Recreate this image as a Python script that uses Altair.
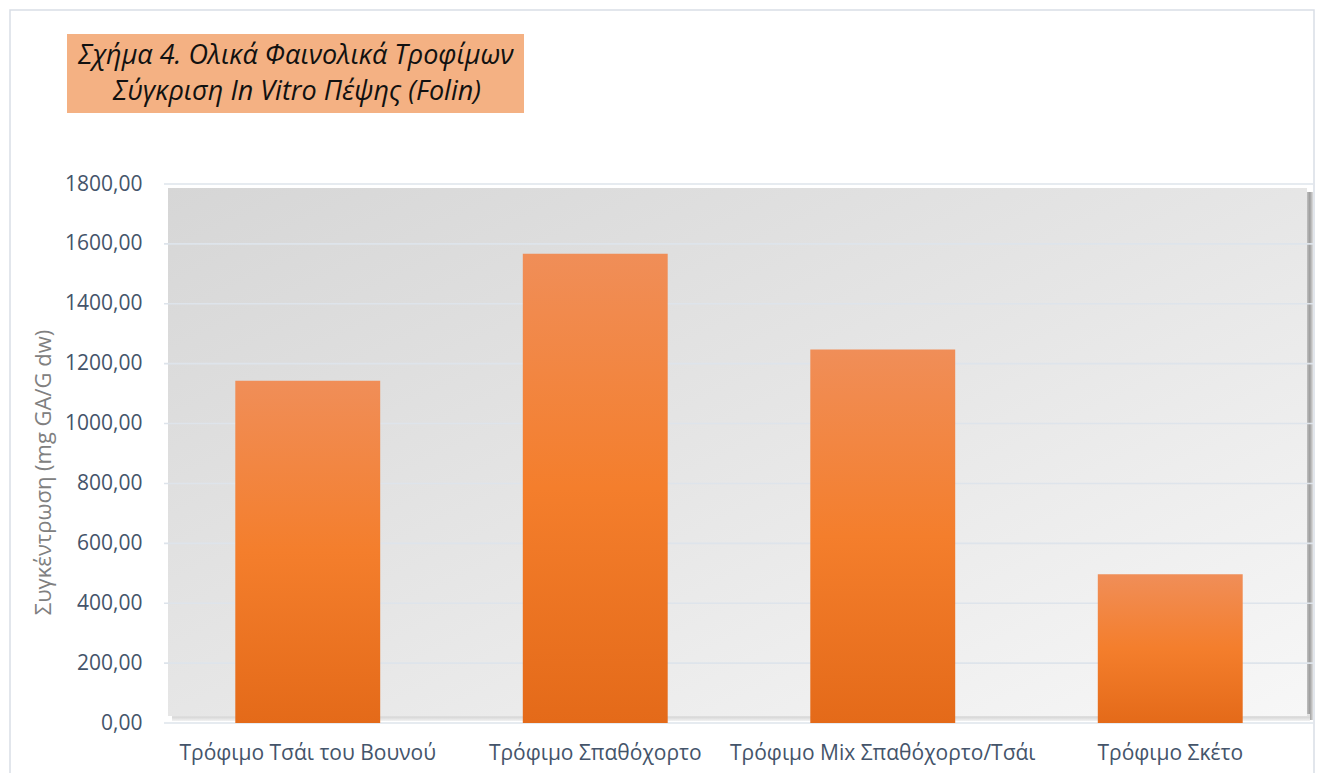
import altair as alt
import pandas as pd

# ---- data ----
categories = ["Τρόφιμο Τσάι του Βουνού", "Τρόφιμο Σπαθόχορτο",
              "Τρόφιμο Mix Σπαθόχορτο/Τσάι", "Τρόφιμο Σκέτο"]
values = [1143, 1567, 1247, 497]
y_ticks = [0, 200, 400, 600, 800, 1000, 1200, 1400, 1600, 1800]
title_lines = ["Σχήμα 4. Ολικά Φαινολικά Τροφίμων", "Σύγκριση In Vitro Πέψης (Folin)"]
y_title = "Συγκέντρωση (mg GA/G dw)"

W, H = 1150, 539
PAD_L, PAD_T = 164, 184

df = pd.DataFrame({"cat": categories, "val": values})
grid_df = pd.DataFrame({"val": y_ticks})
one = pd.DataFrame({"k": [0]})

FONT = "Open Sans"
yscale = alt.Scale(domain=[0, 1800], nice=False)

yaxis = alt.Axis(values=y_ticks, grid=False, domain=False, ticks=False,
                 labelExpr="replace(format(datum.value, '.2f'), '.', ',')",
                 labelFont=FONT, labelFontSize=21, labelColor="#44546A",
                 labelPadding=22, title=y_title, titleFont=FONT,
                 titleFontSize=22, titleFontWeight="normal", titleColor="#808080",
                 titleX=-121, titleY=288, titleAngle=270,
                 titleAlign="center", titleBaseline="middle")

# outer border of chart
border = alt.Chart(one).mark_rect(fill=None, stroke="#D9DEE6", strokeWidth=1.5).encode(
    x=alt.value(10 - PAD_L), x2=alt.value(1314 - PAD_L),
    y=alt.value(10 - PAD_T), y2=alt.value(800 - PAD_T))

# plot-area background with shadow
shadow_r = alt.Chart(one).mark_rect(
    fill=alt.Gradient(gradient="linear", x1=0, y1=0, x2=1, y2=0,
                      stops=[alt.GradientStop(color="#D8D8D8", offset=0),
                             alt.GradientStop(color="#9C9C9C", offset=0.6),
                             alt.GradientStop(color="#DCDCDC", offset=1)])).encode(
    x=alt.value(1141), x2=alt.value(1149), y=alt.value(8), y2=alt.value(536))
shadow_b = alt.Chart(one).mark_rect(
    fill=alt.Gradient(gradient="linear", x1=0, y1=0, x2=0, y2=1,
                      stops=[alt.GradientStop(color="#E6E6E6", offset=0),
                             alt.GradientStop(color="#DADADA", offset=0.5),
                             alt.GradientStop(color="#F2F2F2", offset=1)])).encode(
    x=alt.value(8), x2=alt.value(1146), y=alt.value(530), y2=alt.value(537))
bg = alt.Chart(one).mark_rect(
    fill=alt.Gradient(gradient="linear", x1=0, y1=0, x2=1, y2=1,
                      stops=[alt.GradientStop(color="#D6D6D6", offset=0),
                             alt.GradientStop(color="#E6E6E6", offset=0.5),
                             alt.GradientStop(color="#F7F7F7", offset=1)])).encode(
    x=alt.value(4), x2=alt.value(1143), y=alt.value(4), y2=alt.value(532))

grid = alt.Chart(grid_df).mark_rule(color="#DEE4EB", strokeWidth=1.6).encode(
    y=alt.Y("val:Q", scale=yscale, axis=yaxis), x=alt.value(0), x2=alt.value(1149))

bars = alt.Chart(df).mark_bar(
    color=alt.Gradient(gradient="linear", x1=0, y1=0, x2=0, y2=1,
                       stops=[alt.GradientStop(color="#F08E58", offset=0),
                              alt.GradientStop(color="#F47E2C", offset=0.5),
                              alt.GradientStop(color="#E46A19", offset=1)])).encode(
    x=alt.X("cat:N", sort=categories,
            scale=alt.Scale(paddingInner=0.496, paddingOuter=0.248),
            axis=alt.Axis(title=None, labelAngle=0, labelFont=FONT, labelFontSize=21,
                          labelColor="#44546A", labelPadding=19, domain=False, ticks=False,
                          labelLimit=400)),
    y=alt.Y("val:Q", scale=yscale, axis=yaxis))

title_box = alt.Chart(one).mark_rect(fill="#F4B183").encode(
    x=alt.value(67 - PAD_L), x2=alt.value(524 - PAD_L),
    y=alt.value(34 - PAD_T), y2=alt.value(113 - PAD_T))
title_t1 = alt.Chart(one).mark_text(
    text=title_lines[0], font=FONT, fontSize=27, fontStyle="italic", color="#111111",
    align="center", baseline="middle").encode(
    x=alt.value(296 - PAD_L), y=alt.value(56 - PAD_T))
title_t2 = alt.Chart(one).mark_text(
    text=title_lines[1], font=FONT, fontSize=27, fontStyle="italic", color="#111111",
    align="center", baseline="middle").encode(
    x=alt.value(297 - PAD_L), y=alt.value(92 - PAD_T))

chart = alt.layer(border, shadow_r, shadow_b, bg, grid, bars, title_box, title_t1, title_t2).properties(
    width=W, height=H,
    autosize=alt.AutoSizeParams(type="none"),
    padding={"left": PAD_L, "top": PAD_T, "right": 1318 - PAD_L - W, "bottom": 773 - PAD_T - H},
    background="white",
).configure_view(stroke=None)

chart.save("out.html", embed_options={"renderer": "svg", "actions": False})
